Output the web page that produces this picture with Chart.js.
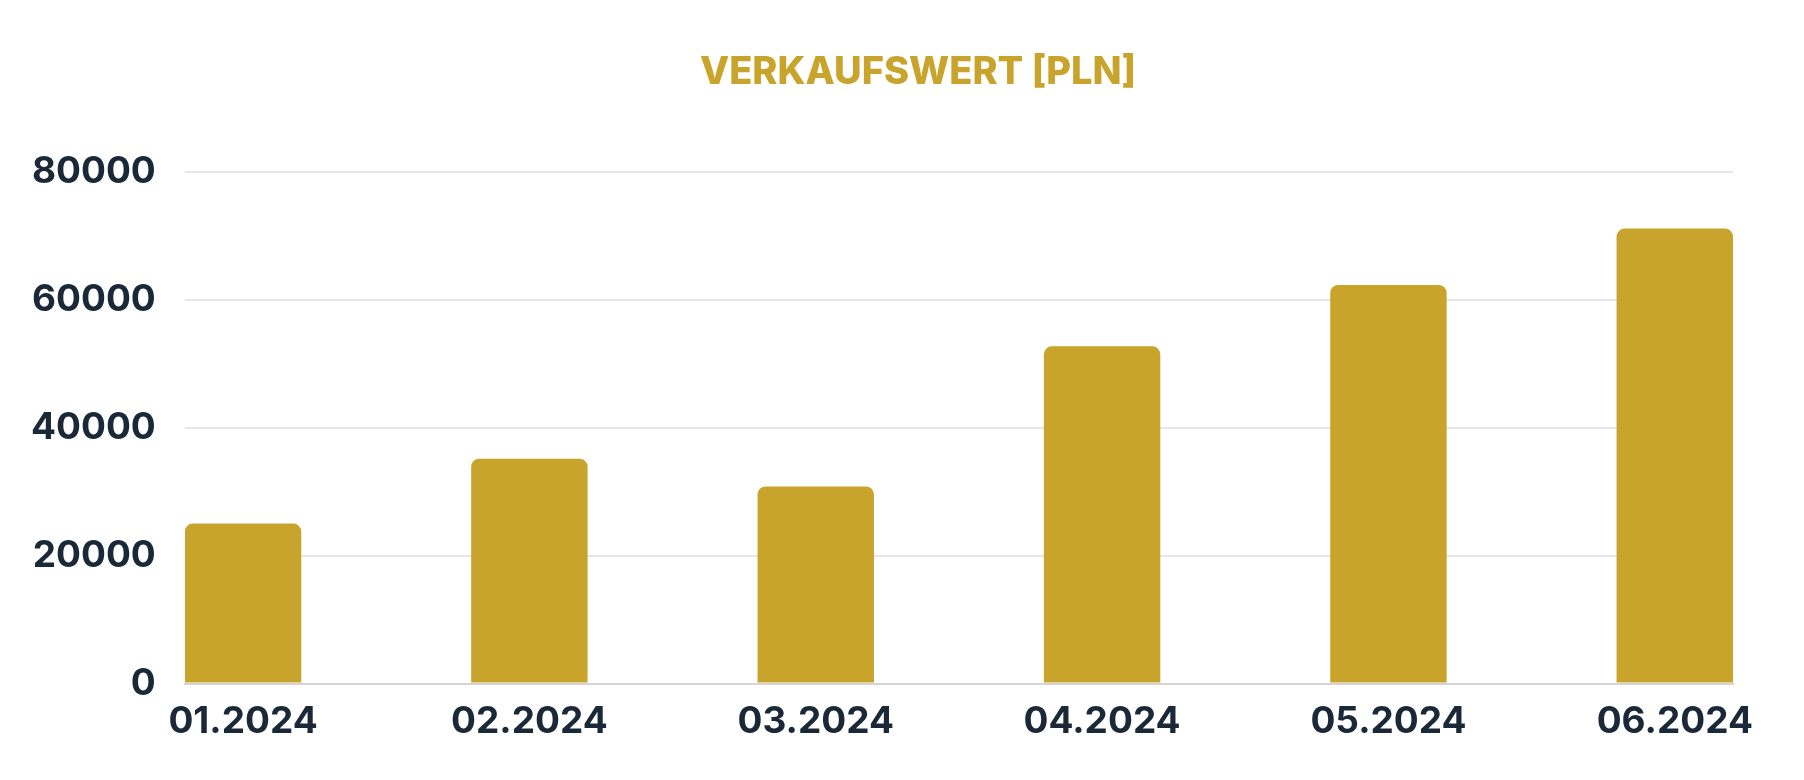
<!DOCTYPE html>
<html>
<head>
<meta charset="utf-8">
<script src="https://cdn.jsdelivr.net/npm/chart.js@4.4.1/dist/chart.umd.min.js"></script>
<style>
  html, body { margin: 0; padding: 0; background: #ffffff; }
  #wrap { width: 1804px; height: 780px; }
</style>
</head>
<body>
<div id="wrap"><canvas id="verkaufChart"></canvas></div>
<script>
// Daten
const monate = ["01.2024", "02.2024", "03.2024", "04.2024", "05.2024", "06.2024"];
const verkaufswert = [25000, 35150, 30800, 52700, 62300, 71100];
const yTicks = [0, 20000, 40000, 60000, 80000];

const GOLD = "#C9A42C";
const NAVY = "#1B2838";
const FONT = "Inter, 'Noto Sans', sans-serif";

// Balkenbreite relativ zum Abstand der Balken
const barAnteil = 0.4066;
// Titel sitzt im Original etwas rechts von der Mitte
const titelVersatz = 101;

const punkte = monate.map((m, i) => ({ x: i, y: verkaufswert[i] }));

const ctx = document.getElementById("verkaufChart").getContext("2d");
new Chart(ctx, {
  type: "bar",
  data: {
    datasets: [{
      label: "Verkaufswert",
      data: punkte,
      backgroundColor: GOLD,
      borderRadius: 8,
      borderSkipped: "start",
      categoryPercentage: 1,
      barPercentage: barAnteil
    }]
  },
  options: {
    responsive: true,
    maintainAspectRatio: false,
    animation: false,
    layout: {
      padding: { top: 50, right: 71, bottom: 28, left: 2 + titelVersatz }
    },
    plugins: {
      legend: { display: false },
      tooltip: { enabled: false },
      title: {
        display: true,
        text: "VERKAUFSWERT [PLN]",
        color: GOLD,
        font: { family: FONT, size: 38, weight: 800 },
        padding: { top: 0, bottom: 76 }
      }
    },
    scales: {
      x: {
        type: "linear",
        offset: false,
        min: -barAnteil / 2,
        max: monate.length - 1 + barAnteil / 2,
        grid: { display: false, offset: false },
        border: { display: true, color: "#d4d4d4", width: 2 },
        ticks: {
          stepSize: 1,
          includeBounds: false,
          autoSkip: false,
          maxRotation: 0,
          padding: 8,
          color: NAVY,
          font: { family: FONT, size: 37, weight: "bold" },
          callback: (v) => monate[v]
        }
      },
      y: {
        min: yTicks[0],
        max: yTicks[yTicks.length - 1],
        afterBuildTicks: (scale) => {
          scale.ticks = yTicks.map(v => ({ value: v }));
        },
        afterFit: (scale) => {
          // Beschriftung ragt in den linken Rand, daher nicht abschneiden
          scale.width -= titelVersatz;
          scale._computeLabelArea = () => null;
        },
        grid: { color: "#e6e6e6", lineWidth: 2, drawTicks: false },
        border: { display: false },
        ticks: {
          padding: 29,
          color: NAVY,
          font: { family: FONT, size: 37, weight: "bold" },
          callback: (v) => String(v)
        }
      }
    }
  }
});
</script>
</body>
</html>
